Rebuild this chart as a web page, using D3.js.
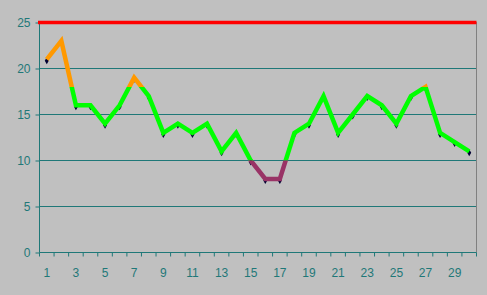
<!DOCTYPE html>
<html>
<head>
<meta charset="utf-8">
<script src="https://cdn.jsdelivr.net/npm/d3@7"></script>
<style>
  body { margin: 0; background: #c0c0c0; }
  svg { display: block; }
  .axis text { font-family: Arial, "Liberation Sans", sans-serif; font-size: 12px; fill: #1f7878; }
  .axis path, .axis line { stroke: #1f7878; }
</style>
</head>
<body>
<svg width="487" height="295"></svg>
<script>
    var days = d3.range(1, 31);
    var values = [21, 23, 16, 16, 14, 16, 19, 17, 13, 14, 13, 14, 11, 13, 10,
                  8, 8, 13, 14, 17, 13, 15, 17, 16, 14, 17, 18, 13, 12, 11];
    var yTicks = [0, 5, 10, 15, 20, 25];
    var limitValue = 25;
    var highLimit = 18;
    var lowLimit = 10;

    var svg = d3.select("svg");
    var margin = {top: 22.5, right: 10.5, bottom: 42.5, left: 39.5};
    var width = +svg.attr("width") - margin.left - margin.right;
    var height = +svg.attr("height") - margin.top - margin.bottom;
    var g = svg.append("g").attr("transform", "translate(" + margin.left + "," + margin.top + ")");

    var x = d3.scaleBand().domain(days).range([0, width]);
    var y = d3.scaleLinear().domain([0, 25]).range([height, 0]);

    // gridlines
    g.append("g")
        .selectAll("line")
        .data(yTicks.filter(function (d) { return d > 0; }))
        .enter().append("line")
        .attr("x1", 0).attr("x2", width)
        .attr("y1", function (d) { return y(d); })
        .attr("y2", function (d) { return y(d); })
        .attr("stroke", "#1f7878");

    // right border of plot area
    g.append("line")
        .attr("x1", width).attr("x2", width)
        .attr("y1", 0).attr("y2", height)
        .attr("stroke", "#808080");

    g.append("g")
        .attr("class", "axis")
        .call(d3.axisLeft(y).tickValues(yTicks).tickSize(4).tickPadding(5))
        .call(function (a) { a.select(".domain").attr("d", "M0," + height + "V0"); });

    var xAxis = g.append("g")
        .attr("class", "axis")
        .attr("transform", "translate(0," + height + ")");
    xAxis.append("line")
        .attr("x1", 0).attr("x2", width)
        .attr("stroke", "#1f7878");
    xAxis.selectAll(".tk")
        .data(d3.range(0, days.length + 1))
        .enter().append("line")
        .attr("x1", function (i) { return i * x.step(); })
        .attr("x2", function (i) { return i * x.step(); })
        .attr("y1", 0).attr("y2", 4)
        .attr("stroke", "#1f7878");
    xAxis.selectAll("text")
        .data(days.filter(function (d) { return d % 2 === 1; }))
        .enter().append("text")
        .attr("x", function (d) { return x(d) + x.bandwidth() / 2; })
        .attr("y", 24)
        .attr("text-anchor", "middle")
        .text(function (d) { return d; });

    // limit line
    g.append("line")
        .attr("x1", -1.5).attr("x2", width)
        .attr("y1", y(limitValue)).attr("y2", y(limitValue))
        .attr("stroke", "#ff0000")
        .attr("stroke-width", 3.5);

    var cx = function (d, i) { return x(days[i]) + x.bandwidth() / 2; };

    // markers
    g.append("g")
        .selectAll("path")
        .data(values)
        .enter().append("path")
        .attr("d", d3.symbol(d3.symbolDiamond, 14)())
        .attr("transform", function (d, i) { return "translate(" + cx(d, i) + "," + (y(d) + 1.5) + ")"; })
        .attr("fill", "#000033");

    var defs = svg.append("defs");
    var bands = [
        {id: "high", y0: y(25) - 10, y1: y(highLimit), color: "#ff9900"},
        {id: "mid", y0: y(highLimit), y1: y(lowLimit), color: "#00ff00"},
        {id: "low", y0: y(lowLimit), y1: height + 10, color: "#993366"}
    ];
    bands.forEach(function (b) {
        defs.append("clipPath").attr("id", "clip-" + b.id)
            .append("rect")
            .attr("x", -10).attr("width", width + 20)
            .attr("y", b.y0).attr("height", b.y1 - b.y0);
    });

    var line = d3.line()
        .x(cx)
        .y(function (d) { return y(d); });

    bands.forEach(function (b) {
        g.append("path")
            .datum(values)
            .attr("clip-path", "url(#clip-" + b.id + ")")
            .attr("d", line)
            .attr("fill", "none")
            .attr("stroke", b.color)
            .attr("stroke-width", 4.5)
            .attr("stroke-linejoin", "miter");
    });
</script>
</body>
</html>
